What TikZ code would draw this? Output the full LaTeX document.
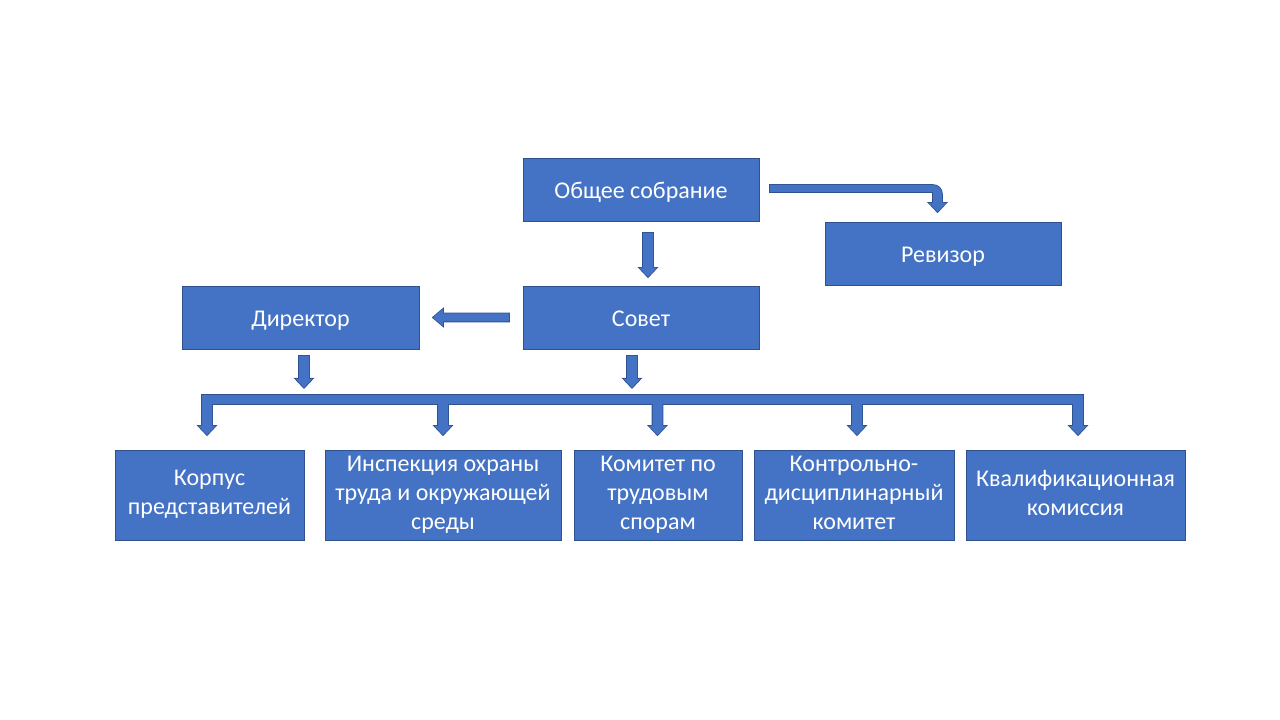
\documentclass[tikz,border=0pt]{standalone}
\usepackage{fontspec}
\setmainfont{Carlito}
\usetikzlibrary{positioning, calc}

\definecolor{boxblue}{HTML}{4472C4}
\definecolor{boxedge}{HTML}{2F528F}

% block arrow pointing down, from #2 (top of shaft) to #3 (tip)
\newcommand{\downblk}[3][blk]{%
  \path[#1] let \p1=(#2), \p2=(#3) in
    (\x1-5pt,\y1) -- (\x1+5pt,\y1) -- (\x1+5pt,\y2+9pt) -- (\x1+8.5pt,\y2+9pt)
    -- (\x1,\y2) -- (\x1-8.5pt,\y2+9pt) -- (\x1-5pt,\y2+9pt) -- cycle;}

% block arrow pointing left, from #1 (end of shaft) to #2 (tip)
\newcommand{\leftblk}[2]{%
  \path[blk] let \p1=(#1), \p2=(#2) in
    (\x1,\y1+4pt) -- (\x2+10pt,\y1+4pt) -- (\x2+10pt,\y1+8.5pt) -- (\x2,\y1)
    -- (\x2+10pt,\y1-8.5pt) -- (\x2+10pt,\y1-4pt) -- (\x1,\y1-4pt) -- cycle;}

\begin{document}
\begin{tikzpicture}[x=1pt, y=1pt]
    \tikzstyle{unit} = [draw=boxedge, fill=boxblue, line width=0.8pt, text=white,
        inner sep=0pt, outer sep=0pt, align=center, minimum height=63pt,
        font=\fontsize{24pt}{29pt}\selectfont,
        execute at begin node={\rule{0pt}{23pt}}, execute at end node={\rule[-5pt]{0pt}{5pt}}];
    \tikzstyle{blkline} = [draw=boxedge, line width=1.6pt];
    \tikzstyle{blkfill} = [fill=boxblue];
    \tikzstyle{blk} = [blkfill, preaction={blkline}];

    \useasboundingbox (0,0) rectangle (1280,720);

    \node[unit, minimum width=236pt] (gen) at (641, 530.5) {Общее собрание};
    \node[unit, minimum width=236pt, below = 65pt of gen] (sov) {Совет};
    \node[unit, minimum width=237pt, left = 104pt of sov] (dir) {Директор};
    \node[unit, minimum width=236pt, below right = 1pt and 66pt of gen] (rev) {Ревизор};

    \node[unit, minimum width=189pt, minimum height=90pt] (k1) at (209.5, 225) {Корпус\\представителей};
    \node[unit, minimum width=236pt, minimum height=90pt, right = 21pt of k1] (k2) {Инспекция охраны\\труда и окружающей\\среды};
    \node[unit, minimum width=168pt, minimum height=90pt, right = 13pt of k2] (k3) {Комитет по\\трудовым\\спорам};
    \node[unit, minimum width=200pt, minimum height=90pt, right = 12pt of k3] (k4) {Контрольно-\\дисциплинарный\\комитет};
    \node[unit, minimum width=219pt, minimum height=90pt, right = 12pt of k4] (k5) {Квалификационная\\комиссия};

    \node[inner sep=0pt, minimum width=881pt, minimum height=9pt] (bus) at (642.5, 320.5) {};

    \downblk{$(gen.south)+(7,-12)$}{$(sov.north)+(7,9)$};
    \leftblk{$(sov.west)+(-14,0)$}{$(dir.east)+(14,0)$};

    \path[blk] let \p1=($(gen.east)+(11,1)$), \p2=($(rev.north)+(-5.5,10)$) in
        (\x1,\y1+3.5pt) -- (\x2-4.5pt,\y1+3.5pt) arc[start angle=90, end angle=0, radius=9pt]
        -- (\x2+4.5pt,\y2+9pt) -- (\x2+8.5pt,\y2+9pt) -- (\x2,\y2) -- (\x2-8.5pt,\y2+9pt)
        -- (\x2-4.5pt,\y2+9pt) -- (\x2-4.5pt,\y1-3.5pt) -- (\x1,\y1-3.5pt) -- cycle;

    \downblk{$(dir.south)+(3.5,-7)$}{$(bus.north -| dir.south)+(3.5,7)$};
    \downblk{$(sov.south)+(-9,-7)$}{$(bus.north -| sov.south)+(-9,7)$};

    % outlines under the bus, fills over it
    \foreach \k/\dx in {k1/-2.5, k2/0, k3/-0.5, k4/3, k5/2.5}
        \downblk[blkline]{$(bus.center -| \k.north)+(\dx,0)$}{$(\k.north)+(\dx,15)$};
    \path[blk] (bus.south west) rectangle (bus.north east);
    \foreach \k/\dx in {k1/-2.5, k2/0, k3/-0.5, k4/3, k5/2.5}
        \downblk[blkfill]{$(bus.center -| \k.north)+(\dx,0)$}{$(\k.north)+(\dx,15)$};
\end{tikzpicture}
\end{document}
